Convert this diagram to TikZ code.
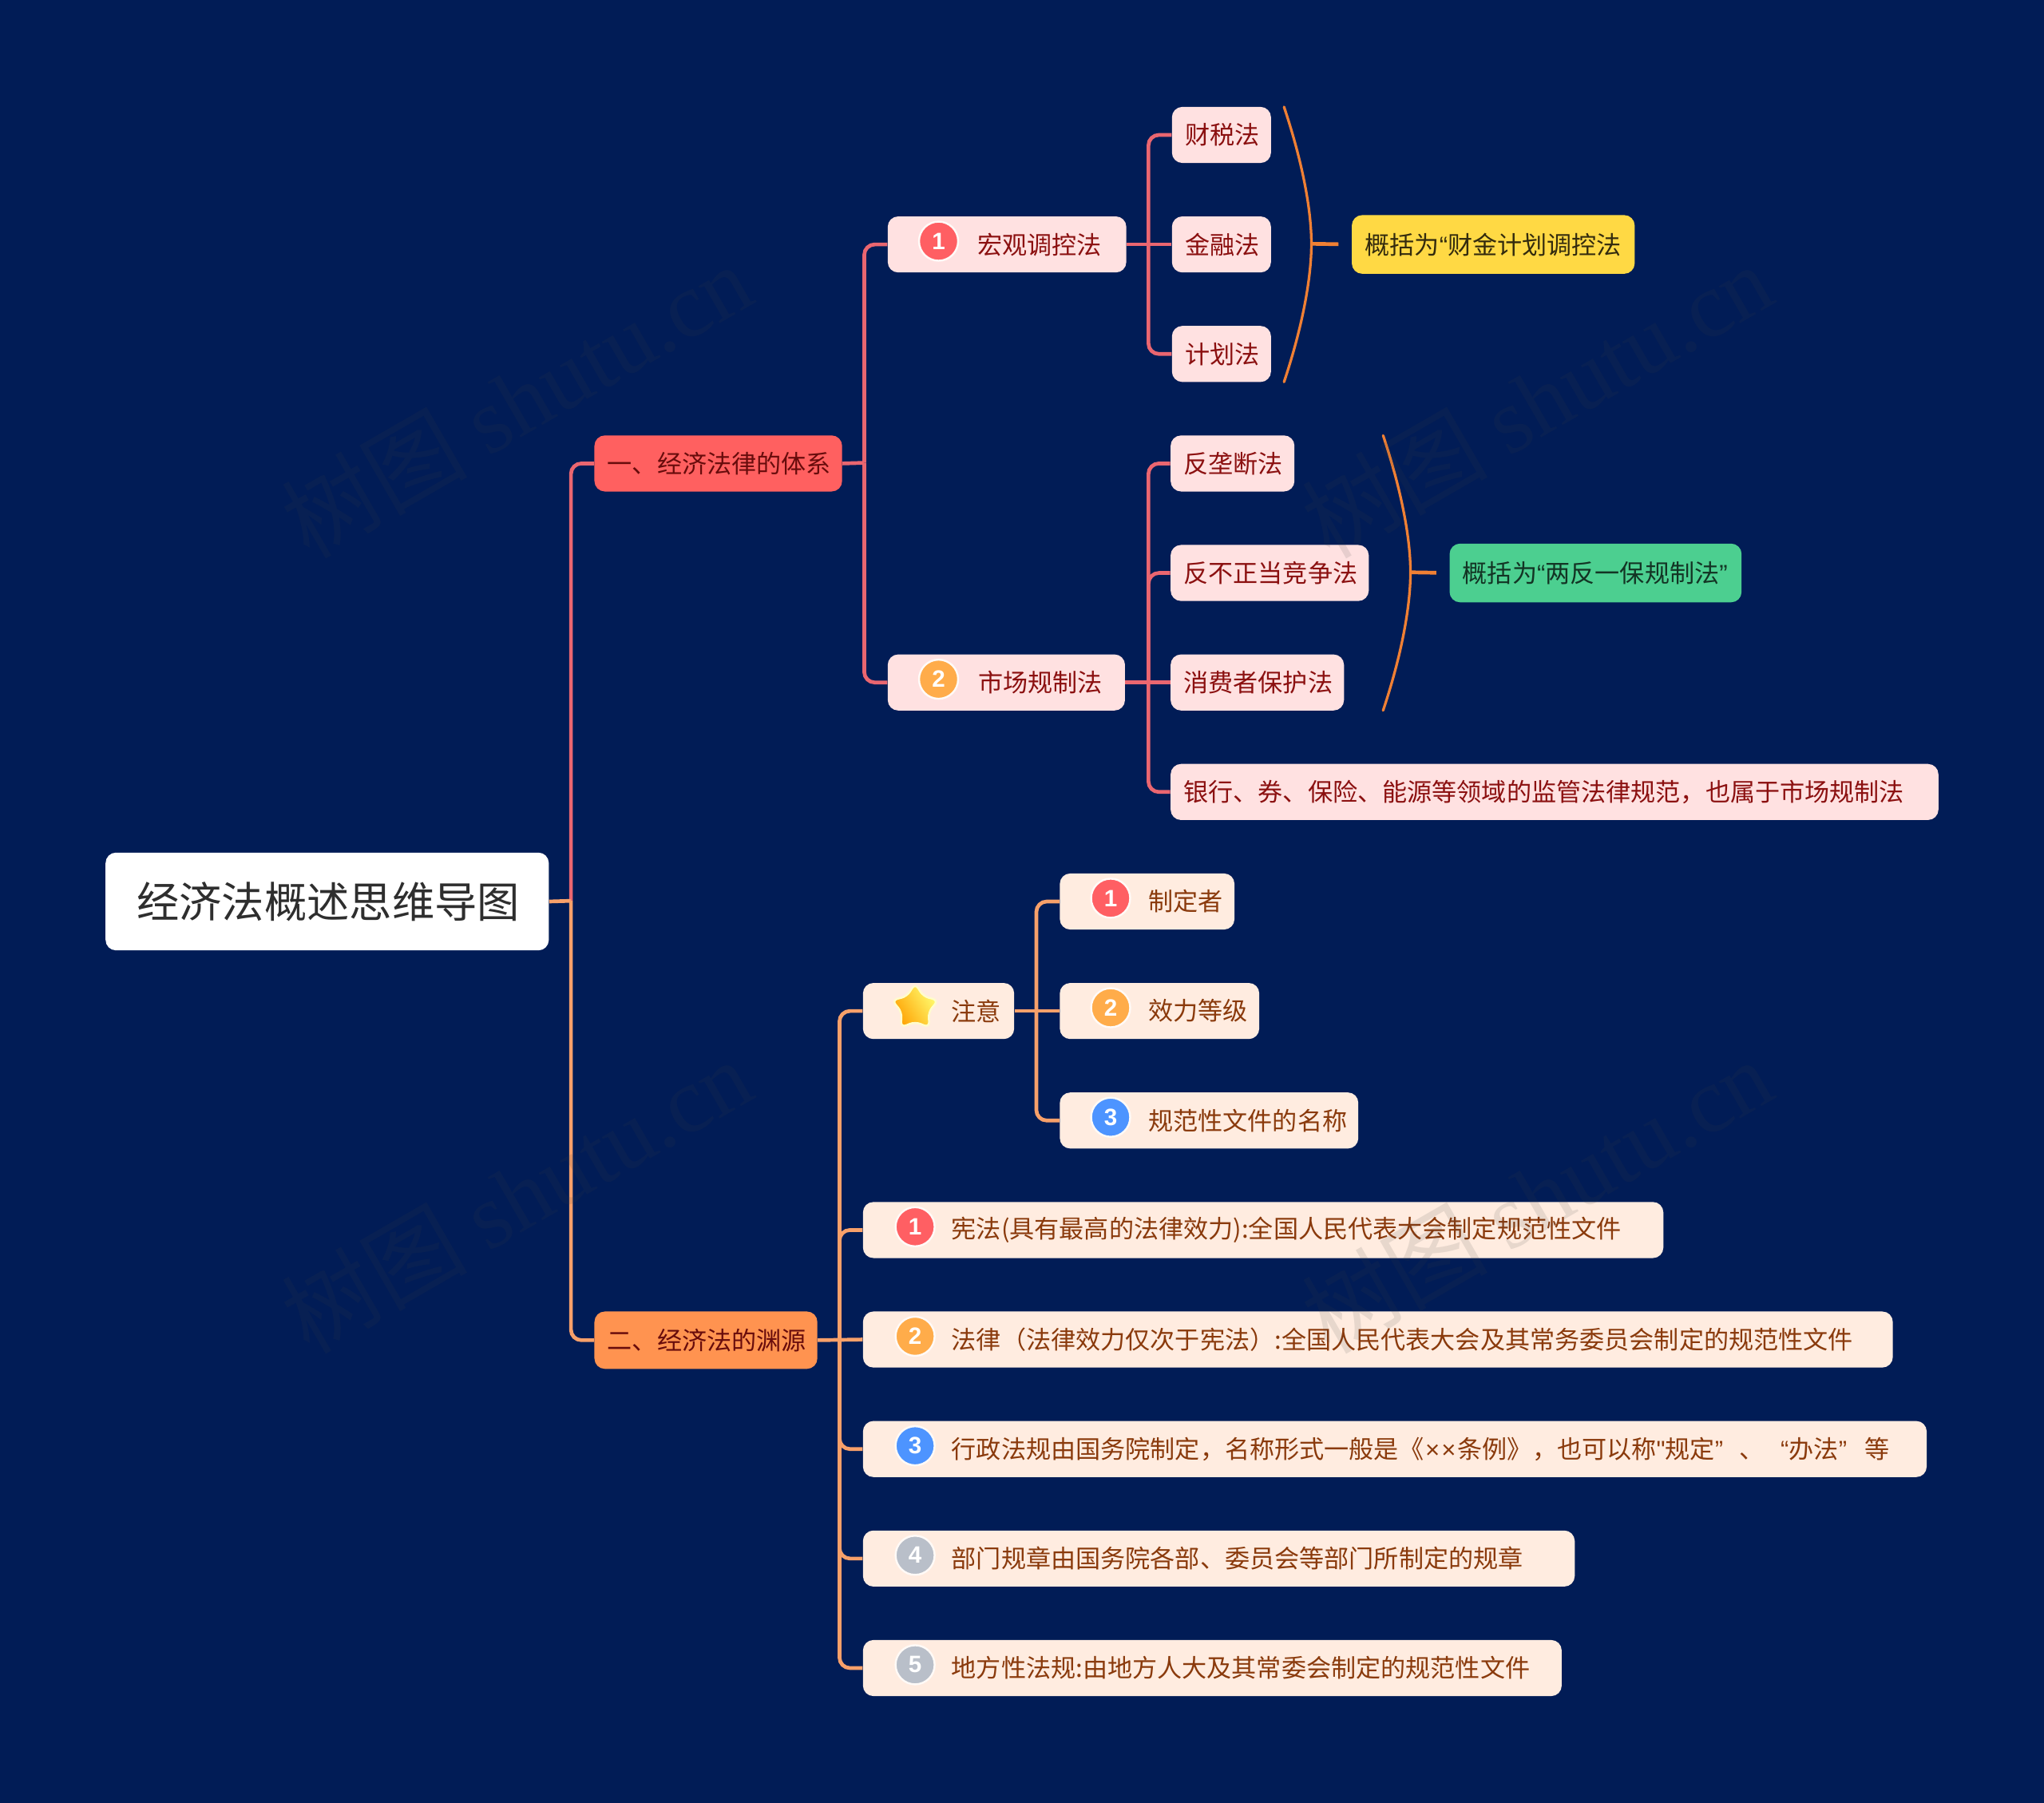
\documentclass[tikz,border=0pt]{standalone}
\usepackage{fontspec}
\setmainfont{Noto Sans CJK SC}
\newfontfamily\digitfont{Liberation Sans}
\newfontfamily\markfont{Liberation Serif}
\usetikzlibrary{shapes.geometric}
\definecolor{bgc}{HTML}{011C56}
\definecolor{redbr}{HTML}{FF6060}
\definecolor{orbr}{HTML}{FF9350}
\definecolor{redlt}{HTML}{FFE1E1}
\definecolor{orlt}{HTML}{FFECE0}
\definecolor{redtx}{HTML}{8B1010}
\definecolor{ortx}{HTML}{8A3A0C}
\definecolor{redln}{HTML}{EA6670}
\definecolor{orln}{HTML}{F7A06A}
\definecolor{brln}{HTML}{F08034}
\definecolor{yel}{HTML}{FFD944}
\definecolor{grn}{HTML}{4CCF90}
\definecolor{ic1}{HTML}{FF5F63}
\definecolor{ic2}{HTML}{FFAC4A}
\definecolor{ic3}{HTML}{4D94FF}
\definecolor{ic4}{HTML}{B9BFC9}
\newcommand\qL{{\digitfont “}}
\newcommand\qR{{\digitfont ”}}
\newcommand\qS{{\digitfont\symbol{34}}}
\newcommand\mult{{\digitfont ×}}
\tikzset{
  x=0.8pt,y=-0.8pt,
  boxbase/.style={rectangle,rounded corners=6.4pt,inner sep=0pt,font=\fontsize{15.25pt}{18pt}\selectfont},
  rootbox/.style={boxbase,fill=white,text=black!82,font=\fontsize{26.1pt}{30pt}\selectfont},
  redmain/.style={boxbase,fill=redbr,text=redtx!75!black},
  ormain/.style={boxbase,fill=orbr,text=redtx!75!black},
  redsub/.style={boxbase,fill=redlt,text=redtx},
  orsub/.style={boxbase,fill=orlt,text=ortx},
  yelbox/.style={boxbase,fill=yel,text=black!80!yel},
  grnbox/.style={boxbase,fill=grn,text=black!75!grn},
  iconb/.style={circle,inner sep=0pt,minimum size=24pt,draw=white!75!orlt,line width=1.2pt,text=white,font=\digitfont\bfseries\fontsize{14.5pt}{15pt}\selectfont},
  redl/.style={draw=redln,line width=2.3pt,rounded corners=6.4pt},
  orl/.style={draw=orln,line width=2.3pt,rounded corners=6.4pt},
  brl/.style={draw=brln,line width=1.6pt,line cap=round},
  stubl/.style={draw=brln,line width=2.3pt},
  wmark/.style={rotate=30,text=black!75,text opacity=0.12,font=\fontsize{57pt}{60pt}\selectfont}
}
\newcommand\nd[8]{%
  \pgfmathsetmacro\wdd{#4-#2}%
  \pgfmathsetmacro\htt{#5-#3}%
  \pgfmathsetmacro\padd{(#7-#2)*0.8}%
  \pgfmathsetmacro\wpt{(#4-#2)*0.8}%
  \node[#6,minimum width=\wdd*0.8pt,minimum height=\htt*0.8pt] (#1) at ({(#2+#4)/2},{(#3+#5)/2}) {\makebox[\wpt pt][l]{\hspace{\padd pt}\vphantom{汉}#8}};}
\begin{document}
\begin{tikzpicture}
\useasboundingbox (0,0) rectangle (1568,1383);
\fill[bgc] (0,0) rectangle (1568,1383);

% nodes
\nd{root}{81}{654}{421}{729}{rootbox}{105}{经济法概述思维导图}
\nd{ma}{456}{334}{646}{377}{redmain}{466}{一、经济法律的体系}
\nd{mb}{456}{1006}{627}{1050}{ormain}{466}{二、经济法的渊源}
\nd{ha}{681}{166}{864}{209}{redsub}{750}{宏观调控法}
\nd{hb}{681}{502}{863}{545}{redsub}{750.5}{市场规制法}
\nd{c1}{899}{82}{975}{125}{redsub}{909}{财税法}
\nd{c2}{899}{166}{975}{209}{redsub}{909}{金融法}
\nd{c3}{899}{250}{975}{293}{redsub}{909}{计划法}
\nd{d1}{898}{334}{993}{377}{redsub}{908}{反垄断法}
\nd{d2}{898}{418}{1050}{461}{redsub}{908}{反不正当竞争法}
\nd{d3}{898}{502}{1031}{545}{redsub}{908}{消费者保护法}
\nd{d4}{898}{586}{1487}{629}{redsub}{908}{银行、券、保险、能源等领域的监管法律规范，也属于市场规制法}
\nd{s1}{1037}{165}{1254}{210}{yelbox}{1047}{概括为\qL 财金计划调控法}
\nd{s2}{1112}{417}{1336}{462}{grnbox}{1122}{概括为\qL 两反一保规制法\qR}
\nd{n0}{662}{754}{778}{797}{orsub}{730}{注意}
\nd{n1}{813}{670}{947}{713}{orsub}{881}{制定者}
\nd{n2}{813}{754}{966}{797}{orsub}{881}{效力等级}
\nd{n3}{813}{838}{1042}{881}{orsub}{881}{规范性文件的名称}
\nd{r1}{662}{922}{1276}{965}{orsub}{730}{宪法(具有最高的法律效力):全国人民代表大会制定规范性文件}
\nd{r2}{662}{1006}{1452}{1049}{orsub}{730}{法律（法律效力仅次于宪法）:全国人民代表大会及其常务委员会制定的规范性文件}
\nd{r3}{662}{1090}{1478}{1133}{orsub}{730}{行政法规由国务院制定，名称形式一般是《\kern1pt\mult\kern1pt\mult\kern1pt 条例》，也可以称\qS 规定\qR\kern10pt、\kern10pt\qL 办法\qR\kern11pt 等}
\nd{r4}{662}{1174}{1208}{1217}{orsub}{730}{部门规章由国务院各部、委员会等部门所制定的规章}
\nd{r5}{662}{1258}{1198}{1301}{orsub}{730}{地方性法规:由地方人大及其常委会制定的规范性文件}

% icons
\node[iconb,fill=ic1] (iha) at (720,185) {1};
\node[iconb,fill=ic2] (ihb) at (720,521) {2};
\node[iconb,fill=ic1] (in1) at (852,689) {1};
\node[iconb,fill=ic2] (in2) at (852,773) {2};
\node[iconb,fill=ic3] (in3) at (852,857) {3};
\node[iconb,fill=ic1] (ir1) at (702,941) {1};
\node[iconb,fill=ic2] (ir2) at (702,1025) {2};
\node[iconb,fill=ic3] (ir3) at (702,1109) {3};
\node[iconb,fill=ic4] (ir4) at (702,1193) {4};
\node[iconb,fill=ic4] (ir5) at (702,1277) {5};
\node[star,star points=5,star point ratio=1.75,minimum size=30pt,inner sep=0pt,shade,shading=axis,left color=yellow!55!white,right color=orange!75!yellow,shading angle=-60,draw=yellow!20!white,line width=1.2pt,rounded corners=3.5pt] (istar) at (702,773) {};

% junctions
\coordinate (jr) at (438,691);
\coordinate (ja) at (663,355);
\coordinate (jb) at (644,1028);
\coordinate (jha) at (881,187);
\coordinate (jhb) at (881,523);
\coordinate (jn) at (795,775);
\coordinate (b1) at (1006,187);
\coordinate (b2) at (1082,439);
\coordinate (b1t) at (985,82);
\coordinate (b1b) at (985,293);
\coordinate (b2t) at (1061,334);
\coordinate (b2b) at (1061,545);

% connectors
\draw[redl] (jr) |- (ma.west);
\draw[orl] (jr) |- (mb.west);
\draw[orl] (root.east) -- (jr);

\draw[redl] (ma.east) -- (ja);
\draw[redl] (ja) |- (ha.west);
\draw[redl] (ja) |- (hb.west);

\draw[redl] (ha.east) -- (c2.west);
\draw[redl] (jha) |- (c1.west);
\draw[redl] (jha) |- (c3.west);

\draw[redl] (hb.east) -- (d3.west);
\draw[redl] (jhb) |- (d1.west);
\draw[redl] (jhb) |- (d2.west);
\draw[redl] (jhb) |- (d4.west);

\draw[orl] (mb.east) -- (r2.west);
\draw[orl] (jb) |- (n0.west);
\draw[orl] (jb) |- (r1.west);
\draw[orl] (jb) |- (r3.west);
\draw[orl] (jb) |- (r4.west);
\draw[orl] (jb) |- (r5.west);

\draw[orl] (n0.east) -- (n2.west);
\draw[orl] (jn) |- (n1.west);
\draw[orl] (jn) |- (n3.west);

% summary braces
\draw[brl] (b1t) .. controls (1001,130) and (1006,165) .. (b1) .. controls (1006,209) and (1001,245) .. (b1b);
\draw[brl] (b2t) .. controls (1077,382) and (1082,417) .. (b2) .. controls (1082,461) and (1077,497) .. (b2b);
\draw[stubl,shorten >=8pt] (b1) -- (s1.west);
\draw[stubl,shorten >=8pt] (b2) -- (s2.west);

% watermarks
\node[wmark] (w1) at (396,307) {树图 {\markfont shutu.cn}};
\node[wmark] (w2) at (1179,307) {树图 {\markfont shutu.cn}};
\node[wmark] (w3) at (396,917) {树图 {\markfont shutu.cn}};
\node[wmark] (w4) at (1179,917) {树图 {\markfont shutu.cn}};
\end{tikzpicture}
\end{document}
